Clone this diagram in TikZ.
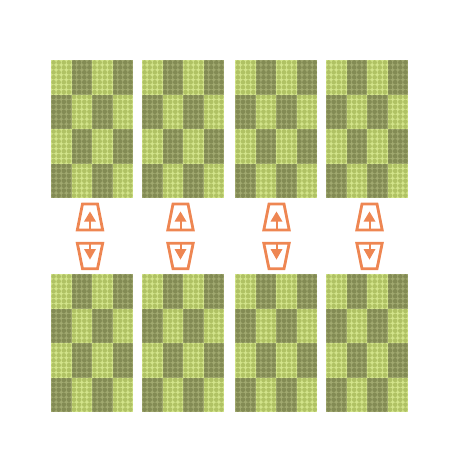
\documentclass[tikz,border=0pt]{standalone}
\definecolor{lc}{HTML}{B0C264}
\definecolor{lg}{HTML}{D3E48B}
\definecolor{dc}{HTML}{838B54}
\definecolor{dg}{HTML}{A1A970}
\definecolor{arr}{HTML}{EE8652}
\tikzset{
  iconline/.style={draw=arr, line width=2.8pt, line join=miter},
  upicon/.pic={
    \draw[iconline] (-7.5,-13) -- (7.5,-13) -- (12.7,13) -- (-12.7,13) -- cycle;
    \fill[arr] (0,-5.5) -- (6,4.5) -- (-6,4.5) -- cycle;
    \fill[arr] (-1,4) rectangle (1,13);
  },
  downicon/.pic={
    \draw[iconline] (-12.7,-12.8) -- (12.7,-12.8) -- (7.5,12.8) -- (-7.5,12.8) -- cycle;
    \fill[arr] (0,3.5) -- (6,-7) -- (-6,-7) -- cycle;
    \fill[arr] (-1,-12.8) rectangle (1,-6.5);
  }
}
\begin{document}
\begin{tikzpicture}[x=1pt,y=-1pt]
\useasboundingbox (0,0) rectangle (457,472);
\foreach \bx in {51,142,235.3,326}{
 \foreach \by in {60,274}{
  \foreach \i in {0,...,3}{
   \foreach \j in {0,...,3}{
     \pgfmathtruncatemacro\pp{mod(\i+\j,2)}
     \ifnum\pp=0 \def\cc{lc}\def\gc{lg}\else\def\cc{dc}\def\gc{dg}\fi
     \fill[\gc] (\bx+\i*20.5, \by+\j*34.5) rectangle ++(20.5,34.5);
     \foreach \k in {0,...,3}{
       \foreach \m in {0,...,6}{
         \fill[\cc] (\bx+\i*20.5+\k*5.125+2.5625, \by+\j*34.5+\m*4.93+2.465) circle (2.3pt);
       }
     }
   }
  }
 }
}
\foreach \ax/\n in {90/1,180.5/2,276.5/3,369.5/4}{
  \pic (up\n) at (\ax,217) {upicon};
  \pic (down\n) at (\ax,256) {downicon};
}
\end{tikzpicture}
\end{document}
